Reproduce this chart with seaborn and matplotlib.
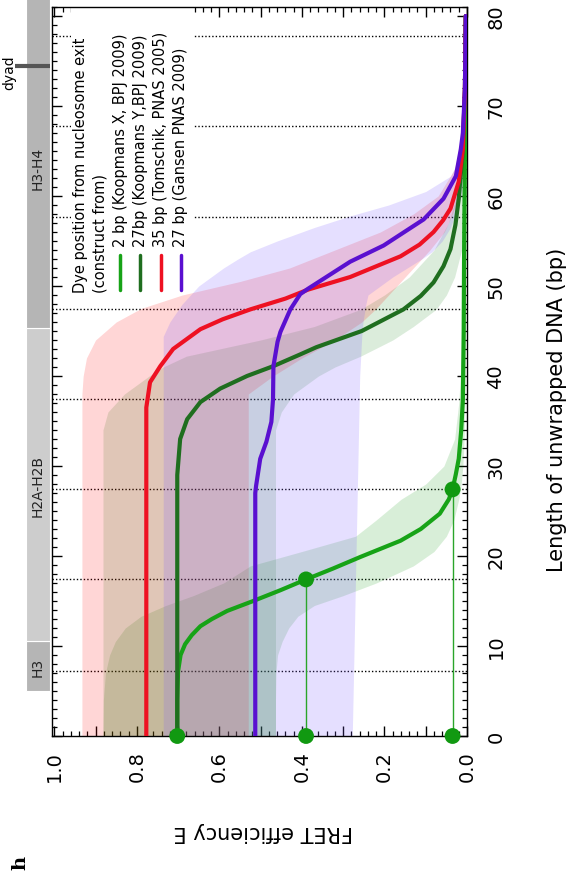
import matplotlib
matplotlib.use("Agg")
import matplotlib.pyplot as plt
import pandas as pd
import seaborn as sns
from matplotlib.patches import Rectangle
from matplotlib.ticker import MultipleLocator, FuncFormatter

sns.set_theme(style="ticks")
plt.rcParams["font.family"] = ["DejaVu Sans"]
plt.rcParams.update({"text.color": "black", "axes.labelcolor": "black",
                     "xtick.color": "black", "ytick.color": "black",
                     "axes.edgecolor": "black"})

# ---- FRET efficiency E versus length of unwrapped DNA (bp) ----
# 2 bp (Koopmans X, BPJ 2009)
bp_x = [0, 4, 7.2, 9, 10.2, 11.2, 12.2, 13, 13.9, 15, 16.2, 17.4, 18.6, 19.9, 21.7, 23,
        24.7, 26.3, 27.4, 29.1, 30.8, 34, 37.4, 45, 54, 65, 80]
E_x = [0.702, 0.702, 0.700, 0.694, 0.683, 0.667, 0.646, 0.618, 0.581, 0.518, 0.452, 0.390,
       0.325, 0.258, 0.161, 0.112, 0.066, 0.044, 0.035, 0.027, 0.020, 0.014, 0.010, 0.008,
       0.007, 0.005, 0.003]

# 27bp (Koopmans Y, BPJ 2009)
bp_y = [0, 29, 33, 35.2, 37.1, 38.6, 40, 41.1, 42.4, 43.2, 45, 47.4, 48.9, 50.4, 52.2,
        54.1, 56.8, 59.7, 65.2, 72, 80]
E_y = [0.702, 0.702, 0.695, 0.678, 0.646, 0.598, 0.533, 0.469, 0.404, 0.365, 0.255, 0.154,
       0.112, 0.081, 0.057, 0.040, 0.028, 0.020, 0.010, 0.005, 0.003]

# 35 bp (Tomschik, PNAS 2005)
bp_t = [0, 36.5, 39.3, 41.1, 43, 45.2, 46.3, 47.4, 48.6, 49.6, 51, 53.3, 54.6, 56, 57.3,
        58.6, 61.6, 65.2, 72, 80]
E_t = [0.777, 0.777, 0.768, 0.743, 0.712, 0.646, 0.592, 0.525, 0.440, 0.385, 0.283, 0.161,
       0.115, 0.081, 0.058, 0.040, 0.020, 0.010, 0.005, 0.003]

# 27 bp (Gansen PNAS 2009)
bp_g = [0, 27, 27.8, 30.8, 32.7, 34.9, 37.4, 41.1, 43.8, 44.9, 47.4, 49.1, 49.7, 52.7,
        54.5, 57.4, 59.7, 62.2, 65.2, 67, 72, 80]
E_g = [0.513, 0.513, 0.511, 0.501, 0.486, 0.474, 0.470, 0.469, 0.459, 0.452, 0.428, 0.404,
       0.385, 0.283, 0.202, 0.105, 0.057, 0.027, 0.015, 0.010, 0.005, 0.003]

# uncertainty bands (bp, lower E, upper E)
band_x_bp = [0, 4, 7, 9, 10.5, 12, 13.3, 14.5, 15.6, 17, 18.9, 20.5, 22.2, 24, 26.3, 28,
             30, 33, 37, 45, 55, 81]
band_x_hi = [0.882, 0.881, 0.876, 0.866, 0.852, 0.828, 0.790, 0.730, 0.663, 0.590, 0.525,
             0.400, 0.270, 0.220, 0.160, 0.100, 0.056, 0.030, 0.020, 0.010, 0.005, 0.002]
band_x_lo = [0.464, 0.464, 0.463, 0.459, 0.448, 0.432, 0.410, 0.370, 0.300, 0.220, 0.130,
             0.080, 0.050, 0.032, 0.020, 0.014, 0.010, 0.007, 0.005, 0.003, 0.001, 0]

band_y_bp = [0, 34, 36, 38, 40, 41, 42.2, 44, 45.5, 47.4, 49, 51, 54, 57, 60, 65, 70, 81]
band_y_hi = [0.882, 0.882, 0.870, 0.830, 0.770, 0.736, 0.680, 0.500, 0.370, 0.258, 0.200,
             0.140, 0.080, 0.045, 0.025, 0.010, 0.005, 0.002]
band_y_lo = [0.464, 0.464, 0.450, 0.420, 0.360, 0.320, 0.258, 0.180, 0.130, 0.075, 0.050,
             0.030, 0.013, 0.006, 0.003, 0.001, 0, 0]

band_t_bp = [0, 38, 40, 42, 44, 46, 47.5, 49, 50.5, 52, 54, 56, 58, 60, 63, 67, 72, 81]
band_t_hi = [0.933, 0.933, 0.930, 0.922, 0.900, 0.850, 0.790, 0.690, 0.550, 0.430, 0.320,
             0.210, 0.130, 0.070, 0.030, 0.012, 0.005, 0.002]
band_t_lo = [0.530, 0.530, 0.470, 0.400, 0.320, 0.255, 0.220, 0.190, 0.160, 0.130, 0.090,
             0.055, 0.035, 0.020, 0.010, 0.005, 0.002, 0]

band_g_bp = [0, 40, 44.4, 46, 48, 49, 50, 51, 52, 53, 53.8, 55, 56.5, 57.8, 59, 60.5, 62.2,
             64, 67, 72, 81]
band_g_hi = [0.736, 0.736, 0.736, 0.720, 0.690, 0.670, 0.650, 0.620, 0.590, 0.555, 0.525,
             0.460, 0.370, 0.282, 0.190, 0.100, 0.040, 0.020, 0.010, 0.005, 0.002]
band_g_lo = [0.278, 0.260, 0.255, 0.252, 0.245, 0.240, 0.210, 0.180, 0.145, 0.110, 0.085,
             0.060, 0.040, 0.030, 0.020, 0.013, 0.008, 0.005, 0.003, 0.001, 0]

# marked read-outs on the 2 bp curve
mark_bp = [0, 0, 0, 17.4, 27.4]
mark_E = [0.702, 0.390, 0.035, 0.390, 0.035]

# superhelical reference positions
helix_bp = [7.2, 17.4, 27.4, 37.4, 47.5, 57.7, 67.8, 77.8]

names = ["2 bp (Koopmans X, BPJ 2009)", "27bp (Koopmans Y,BPJ 2009)",
         "35 bp (Tomschik, PNAS 2005)", "27 bp (Gansen PNAS 2009)"]
line_colors = ["#17a317", "#1f6e1f", "#ee1122", "#5a10d0"]
band_colors = ["#109a10", "#108010", "#ff0000", "#7f5fff"]
band_alpha = [0.16, 0.15, 0.16, 0.20]

# histone regions (start bp, end bp, label, colour)
regions = [(5.0, 10.55, "H3", "#b5b5b5"),
           (10.55, 45.3, "H2A-H2B", "#cdcdcd"),
           (45.3, 83.0, "H3-H4", "#b5b5b5")]
dyad_bp = 74.4

curves = pd.concat([
    pd.DataFrame({"bp": b, "E": e, "construct": n})
    for b, e, n in [(bp_x, E_x, names[0]), (bp_y, E_y, names[1]),
                    (bp_t, E_t, names[2]), (bp_g, E_g, names[3])]
], ignore_index=True)

fig = plt.figure(figsize=(5.79, 8.79), dpi=100)
ax = fig.add_axes([52 / 579, (879 - 737) / 879, 415 / 579, 729 / 879])

bands = [(band_x_bp, band_x_lo, band_x_hi), (band_y_bp, band_y_lo, band_y_hi),
         (band_t_bp, band_t_lo, band_t_hi), (band_g_bp, band_g_lo, band_g_hi)]
for (b, lo, hi), c, a in zip(bands, band_colors, band_alpha):
    ax.fill_betweenx(b, lo, hi, color=c, alpha=a, lw=0, zorder=2)

for h in helix_bp:
    ax.axhline(h, color="black", ls=(0, (1, 1.5)), lw=1.0, zorder=1.2)

# white panel behind the key
ytr = ax.get_yaxis_transform()
ax.add_patch(Rectangle((0.046, 49.5), 0.295, 33, transform=ytr, facecolor="white",
                       edgecolor="none", zorder=1.5))

# thin read-out guides
for e, top in [(0.390, 17.4), (0.035, 27.4)]:
    ax.plot([e, e], [0, top], color="#2aa52a", lw=1.0, zorder=3)

sns.lineplot(data=curves, x="E", y="bp", hue="construct", palette=dict(zip(names, line_colors)),
             sort=False, estimator=None, orient="y", lw=3.0, legend=False, ax=ax, zorder=4)

sns.scatterplot(x=mark_E, y=mark_bp, color="#119911", s=130, edgecolor="none",
                ax=ax, zorder=5, clip_on=False)

ax.set_xlim(1.0055, 0.0)
ax.set_ylim(0, 81)
ax.set_xlabel("")
ax.set_ylabel("")

ax.xaxis.set_major_locator(MultipleLocator(0.1))
ax.xaxis.set_minor_locator(MultipleLocator(0.02))
ax.xaxis.set_major_formatter(FuncFormatter(
    lambda v, p: f"{v:.1f}" if abs(round(v * 10) % 2) == 0 else ""))
ax.yaxis.set_major_locator(MultipleLocator(10))
ax.yaxis.set_minor_locator(MultipleLocator(1))

ax.tick_params(which="both", direction="in", top=True, right=True, left=True, bottom=True,
               labelleft=False, labelright=True, labeltop=False, labelbottom=True,
               color="black", labelcolor="black")
ax.tick_params(which="major", length=7, width=1.0, labelsize=14)
ax.tick_params(which="minor", length=3.5, width=0.9)
ax.tick_params(axis="x", which="major", pad=10, labelrotation=90)
ax.tick_params(axis="y", which="major", pad=14, labelrotation=90)
for t in ax.get_yticklabels():
    t.set_va("center")
for s in ax.spines.values():
    s.set_color("black")
    s.set_linewidth(1.0)

# histone region strip and dyad
for y0, y1, lab, col in regions:
    ax.add_patch(Rectangle((-0.0627, y0), 0.0578, y1 - y0, transform=ytr, facecolor=col,
                           edgecolor="white", lw=0.8, clip_on=False, zorder=1))
    ax.text(-0.0338, (y0 + min(y1, 81)) / 2, lab, transform=ytr, rotation=90,
            ha="center", va="center", fontsize=10, color="#222222")
ax.plot([-0.089, -0.005], [dyad_bp, dyad_bp], transform=ytr, color="#555555", lw=3,
        solid_capstyle="butt", clip_on=False, zorder=3)
ax.text(-0.104, dyad_bp - 0.6, "dyad", transform=ytr, rotation=90, ha="center",
        va="center", fontsize=10)

# key
ax.text(0.0675, 49.3, "Dye position from nucleosome exit", transform=ytr, rotation=90,
        rotation_mode="anchor", ha="left", va="center", fontsize=10.5, zorder=6)
ax.text(0.1157, 49.3, "(construct from)", transform=ytr, rotation=90,
        rotation_mode="anchor", ha="left", va="center", fontsize=10.5, zorder=6)
for i, (n, c) in enumerate(zip(names, line_colors)):
    xa = 0.164 + 0.0488 * i
    ax.plot([xa, xa], [49.6, 53.4], transform=ytr, color=c, lw=2.5, zorder=6)
    ax.text(xa, 54.4, n, transform=ytr, rotation=90, rotation_mode="anchor",
            ha="left", va="center", fontsize=10.5, zorder=6)

fig.text(263 / 579, 1 - 832 / 879, "FRET efficiency E", rotation=180, ha="center",
         va="center", fontsize=15)
fig.text(557 / 579, 1 - 410 / 879, "Length of unwrapped DNA (bp)", rotation=90,
         ha="center", va="center", fontsize=15)
fig.text(20 / 579, 1 - 863 / 879, "h", rotation=90, ha="center", va="center",
         fontsize=14, fontweight="bold", family="DejaVu Serif")

fig.savefig("out.png", dpi=100)
